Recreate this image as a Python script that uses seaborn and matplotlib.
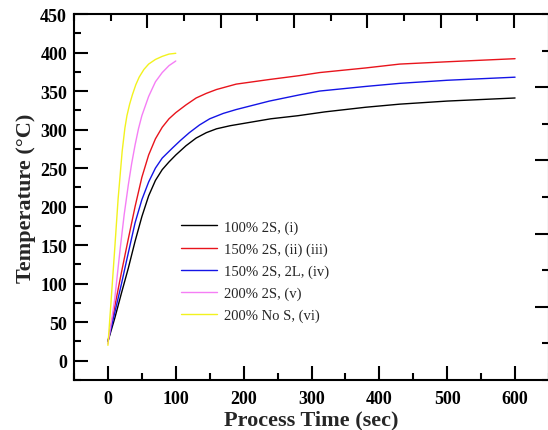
import numpy as np
import pandas as pd
import matplotlib
matplotlib.use("Agg")
import matplotlib.pyplot as plt
from matplotlib.ticker import MultipleLocator
import seaborn as sns

# Heating curves: temperature (°C) against process time (s)
series_labels = ["100% 2S, (i)", "150% 2S, (ii) (iii)", "150% 2S, 2L, (iv)",
                 "200% 2S, (v)", "200% No S, (vi)"]
series_colors = ["#000000", "#e8141c", "#1414e6", "#f57ef5", "#f2f21e"]

time_i = [0, 10, 20, 30, 40, 50, 60, 70, 80, 90, 100, 115, 130, 145, 160, 180,
          200, 240, 280, 320, 380, 430, 500, 550, 600]
temp_i = [25, 55, 88, 120, 155, 187, 214, 234, 248, 258, 267, 279, 289, 296, 301,
          305, 308, 314, 318, 323, 329, 333, 337, 339, 341]

time_ii = [0, 10, 20, 30, 40, 50, 60, 70, 80, 90, 100, 115, 130, 145, 160, 189,
           238, 282, 312, 380, 430, 500, 600]
temp_ii = [25, 70, 115, 158, 200, 238, 267, 288, 303, 314, 322, 332, 341, 347,
           352, 359, 365, 370, 374, 380, 385, 388, 392]

time_iv = [0, 10, 20, 28, 40, 50, 60, 70, 80, 95, 107, 120, 135, 150, 170, 189,
           238, 282, 312, 380, 430, 500, 600]
temp_iv = [25, 62, 100, 132, 179, 209, 232, 250, 263, 276, 286, 296, 306, 314,
           321, 326, 337, 345, 350, 356, 360, 364, 368]

time_v = [0, 5, 10, 18, 24, 30, 35, 40, 45, 50, 60, 70, 80, 90, 100]
temp_v = [22, 50, 80, 145, 190, 228, 256, 280, 301, 318, 343, 362, 374, 383, 389]

time_vi = [0, 5, 10, 15, 21, 25, 28, 32, 36, 41, 46, 53, 60, 70, 80, 90, 100]
temp_vi = [20, 82, 145, 210, 272, 302, 318, 333, 345, 358, 368, 378, 385, 391,
           395, 398, 399]

x_ticks = [0, 100, 200, 300, 400, 500, 600]
y_ticks = [0, 50, 100, 150, 200, 250, 300, 350, 400, 450]

frames = []
for lab, t, y in zip(series_labels,
                     [time_i, time_ii, time_iv, time_v, time_vi],
                     [temp_i, temp_ii, temp_iv, temp_v, temp_vi]):
    frames.append(pd.DataFrame({"time": t, "temp": y, "series": lab}))
df = pd.concat(frames, ignore_index=True)

sns.set_theme(style="ticks")
plt.rcParams["font.family"] = ["Liberation Serif", "DejaVu Serif"]

fig = plt.figure(figsize=(5.48, 4.31), dpi=100)
pos = [74 / 548, 50 / 431, 475 / 548, 366 / 431]
ax = fig.add_axes(pos)

sns.lineplot(data=df, x="time", y="temp", hue="series", hue_order=series_labels,
             palette=series_colors, linewidth=1.0, sort=True, ax=ax, legend=True)

ax.set_xlim(-50, 650)
ax.set_ylim(-25, 450)
ax.set_xticks(x_ticks)
ax.set_yticks(y_ticks)
ax.xaxis.set_minor_locator(MultipleLocator(50))
ax.yaxis.set_minor_locator(MultipleLocator(25))

for side in ["left", "bottom", "top", "right"]:
    ax.spines[side].set_linewidth(1.5)
    ax.spines[side].set_color("black")

ax.tick_params(axis="both", which="major", direction="in", length=10, width=1.5,
               colors="black", labelsize=13, top=False, right=False)
ax.tick_params(axis="both", which="minor", direction="in", length=5, width=1.5,
               colors="black", top=False, right=False)
ax.tick_params(axis="x", which="major", pad=7)
ax.tick_params(axis="y", which="major", pad=5)
for lbl in ax.get_xticklabels() + ax.get_yticklabels():
    lbl.set_fontweight("bold")

ax.set_xlabel("Process Time (sec)", fontsize=16, fontweight="bold", labelpad=2)
ax.set_ylabel("Temperature (°C)", fontsize=16, fontweight="bold", labelpad=3)

# Secondary scales on the top and right frame edges (ticks only)
ax2 = fig.add_axes(pos, facecolor="none")
ax2.set_xlim(0, 475 / 73.3)
ax2.set_ylim(0, 5)
ax2.set_xticks([1, 2, 3, 4, 5, 6])
ax2.set_yticks([1, 2, 3, 4])
ax2.xaxis.set_minor_locator(MultipleLocator(0.5))
ax2.yaxis.set_minor_locator(MultipleLocator(0.5))
for side in ax2.spines.values():
    side.set_visible(False)
ax2.tick_params(axis="both", which="major", direction="in", length=10, width=1.5,
                colors="black", top=True, right=True, bottom=False, left=False,
                labeltop=False, labelright=False, labelbottom=False, labelleft=False)
ax2.tick_params(axis="both", which="minor", direction="in", length=5, width=1.5,
                colors="black", top=True, right=True, bottom=False, left=False)

handles, labels = ax.get_legend_handles_labels()
ax.legend(handles, labels, loc="upper left", bbox_to_anchor=(0.225, 0.437),
          frameon=False, fontsize=10.5, handlelength=2.5, handletextpad=0.45,
          labelspacing=0.6, borderpad=0, borderaxespad=0)

fig.savefig("out.png", dpi=100)
